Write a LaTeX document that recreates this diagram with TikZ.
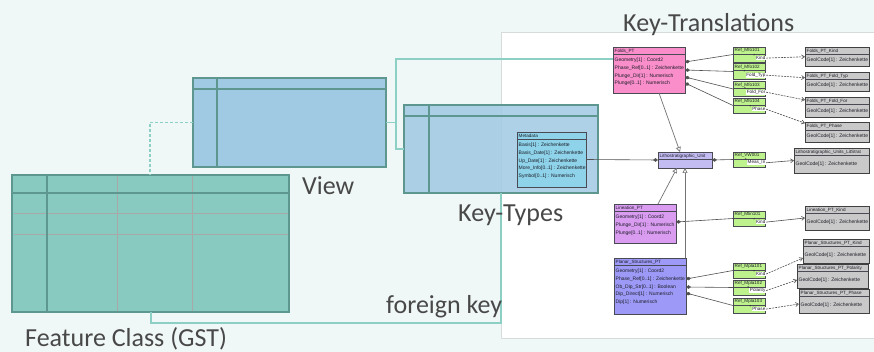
\documentclass[tikz,border=0pt]{standalone}
\usepackage{fontspec}
\setmainfont{Carlito}
\newfontfamily\umlfont{Liberation Sans}
\usetikzlibrary{arrows.meta}

\definecolor{bgc}{HTML}{F0F8F7}
\definecolor{tealfill}{HTML}{88CAC0}
\definecolor{tealdark}{HTML}{5E9690}
\definecolor{bluefill}{HTML}{A0CAE4}
\definecolor{conncol}{HTML}{8CCFC5}
\definecolor{gridgrey}{HTML}{A8A8A8}
\definecolor{labelcol}{HTML}{484848}
\definecolor{panelline}{HTML}{D6DCDC}
\definecolor{umlline}{HTML}{4A4A55}
\definecolor{umltext}{HTML}{1E1E28}
\definecolor{pinkc}{HTML}{F98ECB}
\definecolor{lithoc}{HTML}{C3BCF3}
\definecolor{linc}{HTML}{D99CF1}
\definecolor{planc}{HTML}{9D9AF7}
\definecolor{greenc}{HTML}{BEF28C}
\definecolor{greyc}{HTML}{C9C9C9}
\definecolor{metac}{HTML}{8ED3EA}
\definecolor{relcol}{HTML}{505050}

% UML class: name x y w h fill title attrs
\newcommand{\uclass}[8]{%
  \node[ubox, fill=#6, minimum width=#4pt, minimum height=#5pt] (#1) at (#2,#3) {};
  \draw[uhdr] ([yshift=-7.5pt]#1.north west) -- ([yshift=-7.5pt]#1.north east);
  \node[utitle] (#1-t) at ([xshift=1.5pt,yshift=-3.9pt]#1.north west) {#7};
  \node[uattr, anchor=north west] (#1-a) at ([xshift=1.5pt,yshift=-11pt]#1.north west) {#8};
}
% grey code-list class: name x y w h title attr
\newcommand{\ugrey}[7]{%
  \node[ubox, ugreybox, minimum width=#4pt, minimum height=#5pt] (#1) at (#2,#3) {};
  \draw[uhdr, line width=0.9pt] ([yshift=-7.5pt]#1.north west) -- ([yshift=-7.5pt]#1.north east);
  \node[utitle] (#1-t) at ([xshift=1.5pt,yshift=-3.9pt]#1.north west) {#6};
  \node[uattr, anchor=west] (#1-a) at ([xshift=1.5pt,yshift=-3.75pt]#1.west) {#7};
}
% green reference class: name x y h title label
\newcommand{\uref}[6]{%
  \node[ubox, fill=greenc, minimum width=32pt, minimum height=#4pt] (#1) at (#2,#3) {};
  \draw[uhdr] ([yshift=-7pt]#1.north west) -- ([yshift=-7pt]#1.north east);
  \node[utitle] (#1-t) at ([xshift=1.5pt,yshift=-3.6pt]#1.north west) {#5};
  \node[ulabel] (#1-l) at ([xshift=1pt,yshift=1.5pt]#1.south east) {#6};
  \node[ustar] (#1-s) at ([yshift=0.3pt]#1-l.north west) {*};
}

\begin{document}
\begin{tikzpicture}[x=1pt,y=-1pt,
  ubox/.style={draw=umlline, line width=0.6pt, inner sep=0pt, outer sep=0pt, anchor=north west},
  ugreybox/.style={fill=greyc, draw=black!75, line width=0.9pt},
  uhdr/.style={draw=umlline, line width=0.6pt},
  utitle/.style={anchor=west, inner sep=0pt, font=\umlfont\fontsize{4.6}{5}\selectfont, text=umltext},
  uattr/.style={inner sep=0pt, align=left, font=\umlfont\fontsize{5}{7.7}\selectfont, text=umltext},
  ulabel/.style={anchor=south east, fill=white, inner sep=0.5pt, font=\umlfont\fontsize{4.6}{5}\selectfont, text=umltext},
  ustar/.style={anchor=east, inner sep=0pt, font=\umlfont\fontsize{4.6}{5}\selectfont, text=umltext},
  comp/.style={draw=relcol, line width=0.6pt, {Diamond[length=5pt,width=3.6pt]}-},
  gen/.style={draw=relcol!80, line width=0.7pt, -{Triangle[open,fill=white,length=5pt,width=5pt]}},
  dep/.style={draw=relcol, line width=0.6pt, dash pattern=on 2pt off 1pt, -{Straight Barb[length=3pt,width=4pt]}},
  depsolid/.style={draw=relcol, line width=0.6pt, -{Straight Barb[length=3pt,width=4pt]}},
  tbl/.style={draw=tealdark, line width=2.4pt, inner sep=0pt, outer sep=0pt, anchor=north west},
  tline/.style={draw=tealdark, line width=2.4pt},
  gline/.style={draw=gridgrey, line width=0.7pt},
  conn/.style={draw=conncol, line width=1.3pt},
  lbl/.style={anchor=base west, inner sep=0pt, text=labelcol, font=\fontsize{26}{30}\selectfont}]

\useasboundingbox (0,0) rectangle (874,352);
\fill[bgc] (0,0) rectangle (874,352);
% white panel
\draw[panelline, fill=white, line width=0.6pt] (501,32) rectangle (876,338);

% Feature Class table
\node[tbl, fill=tealfill, minimum width=277pt, minimum height=137pt] (fc) at (12,175) {};
\draw[gline] (117,176.5) -- (117,310.5);
\draw[gline] (192,176.5) -- (192,310.5);
\draw[gline] (13.5,213) -- (287.5,213);
\draw[gline] (13.5,234) -- (287.5,234);
\draw[tline] (12,193) -- (289,193);
\draw[tline] (47,175) -- (47,312);

% View table
\node[tbl, fill=bluefill, minimum width=193pt, minimum height=89pt] (view) at (193,78) {};
\draw[tline] (193,89) -- (386,89);
\draw[tline] (217,78) -- (217,167);

% Key-Types table (semi-transparent)
\node[tbl, fill=bluefill, fill opacity=0.85, minimum width=194pt, minimum height=88pt] (kt) at (404,105) {};
\draw[tline] (404,116) -- (598,116);
\draw[tline] (429,105) -- (429,193);

% UML classes
\uclass{folds}{613}{47}{72}{46}{pinkc}{Folds\_PT}{Geometry[1] : Coord2\\Phase\_Ref[0..1] : Zeichenkette\\Plunge\_Dir[1] : Numerisch\\Plunge[0..1] : Numerisch}
\uclass{meta}{517}{132}{69}{55}{metac}{Metadata}{Basis[1] : Zeichenkette\\Basis\_Date[1] : Zeichenkette\\Up\_Date[1] : Zeichenkette\\More\_Info[0..1] : Zeichenkette\\Symbol[0..1] : Numerisch}
\uclass{litho}{658}{152}{54}{16}{lithoc}{Lithostratigraphic\_Unit}{}
\uclass{lin}{614}{204}{62}{39}{linc}{Lineation\_PT}{Geometry[1] : Coord2\\Plunge\_Dir[1] : Numerisch\\Plunge[0..1] : Numerisch}
\uclass{plan}{614}{258}{72}{56}{planc}{Planar\_Structures\_PT}{Geometry[1] : Coord2\\Phase\_Ref[0..1] : Zeichenkette\\Ob\_Dip\_Str[0..1] : Boolean\\Dip\_Direct[1] : Numerisch\\Dip[1] : Numerisch}

% reference classes
\uref{r1}{733}{47}{15}{Ref\_Mfo101}{Kind}
\uref{r2}{733}{63.5}{16}{Ref\_Mfo102}{Fold\_Typ}
\uref{r3}{733}{81.5}{15}{Ref\_Mfo103}{Fold\_For}
\uref{r4}{733}{98}{15}{Ref\_Mfo104}{Phase}
\uref{rvw}{733}{152}{15}{Ref\_VW001}{Meas\_In}
\uref{rlin}{733}{211}{15}{Ref\_Mlin101}{Kind}
\uref{rp1}{733}{263}{15}{Ref\_Mpla101}{Kind}
\uref{rp2}{733}{280}{15}{Ref\_Mpla102}{Polarity}
\uref{rp3}{733}{298}{15}{Ref\_Mpla103}{Phase}

% code-list classes
\ugrey{g1}{805}{47}{64}{19.5}{Folds\_PT\_Kind}{GeolCode[1] : Zeichenkette}
\ugrey{g2}{805}{72}{64}{19.5}{Folds\_PT\_Fold\_Typ}{GeolCode[1] : Zeichenkette}
\ugrey{g3}{805}{97}{64}{20}{Folds\_PT\_Fold\_For}{GeolCode[1] : Zeichenkette}
\ugrey{g4}{805}{122.5}{64}{19.5}{Folds\_PT\_Phase}{GeolCode[1] : Zeichenkette}
\ugrey{glit}{794}{148}{75}{25}{Lithostratigraphic\_Units\_LitStrat}{GeolCode[1] : Zeichenkette}
\ugrey{glin}{805}{206}{64}{24}{Lineation\_PT\_Kind}{GeolCode[1] : Zeichenkette}
\ugrey{gp1}{803}{239}{66}{24}{Planar\_Structures\_PT\_Kind}{GeolCode[1] : Zeichenkette}
\ugrey{gp2}{797}{264}{71}{24}{Planar\_Structures\_PT\_Polarity}{GeolCode[1] : Zeichenkette}
\ugrey{gp3}{799}{289}{70}{24}{Planar\_Structures\_PT\_Phase}{GeolCode[1] : Zeichenkette}

% connectors of the data model (teal)
\draw[conn, dash pattern=on 3pt off 2pt] (view.west) -| ([xshift=138pt]fc.north west);
\draw[conn] (view.east) -- ++(10,0) |- ([yshift=11pt]folds.west);
\draw[conn] (view.east) -- ++(10,0) |- (kt.west);
\draw[conn, line width=2.2pt] ([xshift=139pt]fc.south west) -- ++(0,11) -| ([xshift=97pt]kt.south west);

% compositions
\draw[comp] ([yshift=8pt]folds.east) -- (r1.west);
\draw[comp] (folds.east) -- (r2.west);
\draw[comp] ([yshift=-7pt]folds.east) -- (r3.west);
\draw[comp] ([yshift=-13pt]folds.east) -- (r4.west);
\draw[comp] (litho.west) -- (meta.east);
\draw[comp] (litho.east) -- (rvw.west);
\draw[comp] ([yshift=1.5pt]lin.east) -- (rlin.west);
\draw[comp] ([yshift=7pt]plan.east) -- (rp1.west);
\draw[comp] ([yshift=-1pt]plan.east) -- (rp2.west);
\draw[comp] ([yshift=-7pt]plan.east) -- (rp3.west);

% generalizations
\draw[gen] ([xshift=46pt]folds.south west) -- ([xshift=22pt]litho.north west);
\draw[gen] ([xshift=44pt]lin.north west) -- ([xshift=19pt]litho.south west);
\draw[gen] ([xshift=71pt]plan.north west) -- ([xshift=27pt]litho.south west);

% dependencies to code lists
\draw[dep] (r1-l.east) -- (g1.west);
\draw[dep] (r2-l.east) -- ([yshift=4pt]g2.west);
\draw[dep] (r3-l.east) -- ([yshift=7pt]g3.west);
\draw[dep] (r4-l.east) -- ([yshift=9pt]g4.west);
\draw[depsolid] (rvw-l.east) -- (glit.west);
\draw[depsolid] (rlin-l.east) -- (glin.west);
\draw[dep] (rp1-l.east) -- ([yshift=-7pt]gp1.west);
\draw[dep] (rp2-l.east) -- ([yshift=-4pt]gp2.west);
\draw[dep] (rp3-l.east) -- ([yshift=-3pt]gp3.west);

% labels
\node[lbl] (lfc) at (25,346.5) {Feature Class (GST)};
\node[lbl] (lview) at (302,195) {View};
\node[lbl] (lkt) at (458,222) {Key-Types};
\node[lbl] (lfk) at (386,313) {foreign key};
\node[lbl] (lktr) at (623,32) {Key-Translations};
\end{tikzpicture}
\end{document}
